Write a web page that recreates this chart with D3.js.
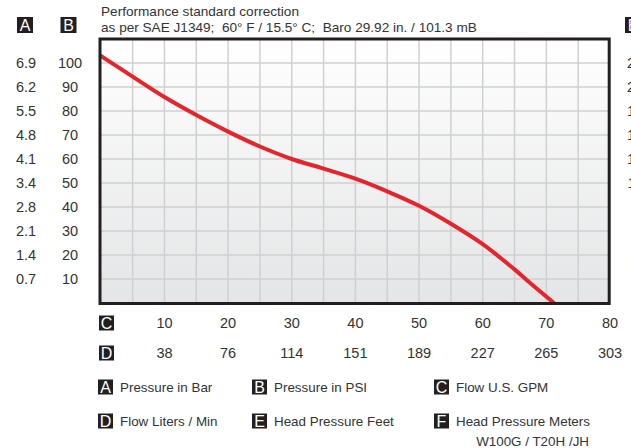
<!DOCTYPE html>
<html><head><meta charset="utf-8">
<script src="https://cdn.jsdelivr.net/npm/d3@7/dist/d3.min.js"></script>
<style>
html,body{margin:0;padding:0;background:#fff;overflow:hidden}
text{font-family:"Liberation Sans",Arial,sans-serif;fill:#333}
</style></head>
<body>
<svg id="c" width="631" height="448"></svg>
<script>
// ---- data ----
const gpm = [0, 5, 10, 15, 20, 25, 30, 35, 40, 45, 50, 55, 60, 65, 67.5, 71.2];
const psi = [103, 94.3, 85.8, 78.3, 71.4, 65.2, 60, 56, 51.8, 46.5, 40.5, 33, 24.5, 14, 8.2, 0];
const psiTicks = [100, 90, 80, 70, 60, 50, 40, 30, 20, 10];
const barLabels = ["6.9", "6.2", "5.5", "4.8", "4.1", "3.4", "2.8", "2.1", "1.4", "0.7"];
const feetLabels = ["231", "208", "185", "162", "139", "116", "92", "69", "46", "23"];
const gpmTicks = [10, 20, 30, 40, 50, 60, 70, 80];
const lpmLabels = ["38", "76", "114", "151", "189", "227", "265", "303"];
const titleLines = ["Performance standard correction",
  "as per SAE J1349;  60\u00B0 F / 15.5\u00B0 C;  Baro 29.92 in. / 101.3 mB"];
const legendKeys = [["A", "Pressure in Bar"], ["B", "Pressure in PSI"], ["C", "Flow U.S. GPM"],
  ["D", "Flow Liters / Min"], ["E", "Head Pressure Feet"], ["F", "Head Pressure Meters"]];
const modelText = "W100G / T20H /JH";

const svg = d3.select("#c");
const x = d3.scaleLinear().domain([0, 80]).range([100.8, 610]);
const y = d3.scaleLinear().domain([0, 110]).range([303, 39]);

const defs = svg.append("defs");
const g = defs.append("linearGradient").attr("id", "bg").attr("x1", 0).attr("x2", 0).attr("y1", 0).attr("y2", 1);
g.append("stop").attr("offset", "0%").attr("stop-color", "#ffffff");
g.append("stop").attr("offset", "100%").attr("stop-color", "#e4e5e6");
defs.append("clipPath").attr("id", "clip").append("rect")
  .attr("x", x(0)).attr("y", y(110)).attr("width", x(80) - x(0)).attr("height", y(0) - y(110));

// background
svg.append("rect").attr("x", x(0)).attr("y", y(110)).attr("width", x(80) - x(0)).attr("height", y(0) - y(110))
  .attr("fill", "url(#bg)");

// grid
const vg = d3.range(5, 80, 5);
svg.append("g").selectAll("line").data(vg).join("line")
  .attr("x1", d => x(d)).attr("x2", d => x(d)).attr("y1", y(110)).attr("y2", y(0))
  .attr("stroke", "#cfd0d1").attr("stroke-width", 1.5);
svg.append("g").selectAll("line").data(d3.range(10, 110, 10)).join("line")
  .attr("x1", x(0)).attr("x2", x(80)).attr("y1", d => y(d)).attr("y2", d => y(d))
  .attr("stroke", "#cfd0d1").attr("stroke-width", 1.5);

// curve
const pts = gpm.map((v, i) => [v, psi[i]]);
svg.append("path").datum(pts).attr("clip-path", "url(#clip)")
  .attr("d", d3.line().x(d => x(d[0])).y(d => y(d[1])).curve(d3.curveCatmullRom.alpha(0.5)))
  .attr("fill", "none").attr("stroke", "#e4262c").attr("stroke-width", 4).attr("stroke-linecap", "round");

// frame
svg.append("rect").attr("x", x(0) - 0.8).attr("y", y(110)).attr("width", x(80) - x(0)).attr("height", y(0) - y(110) + 0.5)
  .attr("fill", "none").attr("stroke", "#231f20").attr("stroke-width", 3);

// key box helper
function keyBox(cx, cy, letter, w, h, fs) {
  svg.append("rect").attr("x", cx - w / 2).attr("y", cy - h / 2).attr("width", w).attr("height", h).attr("fill", "#231f20");
  svg.append("text").attr("x", cx).attr("y", cy).attr("dy", "0.36em").attr("text-anchor", "middle")
    .style("fill", "#fff").style("font-size", fs + "px").text(letter);
}

// title
svg.append("g").selectAll("text").data(titleLines).join("text")
  .attr("x", 101).attr("y", (d, i) => 16 + i * 16).style("font-size", "13.6px")
  .style("white-space", "pre").attr("xml:space", "preserve").text(d => d);

// column headers
keyBox(25, 25, "A", 16, 16, 16);
keyBox(68.5, 25, "B", 16, 16, 16);
keyBox(633, 25, "E", 16, 16, 16);

// left axes
svg.append("g").selectAll("text").data(psiTicks).join("text")
  .attr("x", 26).attr("y", d => y(d)).attr("dy", "0.36em").attr("text-anchor", "middle")
  .style("font-size", "14.5px").text((d, i) => barLabels[i]);
svg.append("g").selectAll("text").data(psiTicks).join("text")
  .attr("x", 70).attr("y", d => y(d)).attr("dy", "0.36em").attr("text-anchor", "middle")
  .style("font-size", "14.5px").text(d => d);
// right axis (clipped by page edge, as in the reference)
svg.append("g").selectAll("text").data(psiTicks).join("text")
  .attr("x", 639).attr("y", d => y(d)).attr("dy", "0.36em").attr("text-anchor", "middle")
  .style("font-size", "14.5px").text((d, i) => feetLabels[i]);

// bottom axes
keyBox(106.5, 323, "C", 15, 15, 16);
keyBox(106.5, 353, "D", 15, 15, 16);
svg.append("g").selectAll("text").data(gpmTicks).join("text")
  .attr("x", d => x(d)).attr("y", 323).attr("dy", "0.36em").attr("text-anchor", "middle")
  .style("font-size", "14.5px").text(d => d);
svg.append("g").selectAll("text").data(gpmTicks).join("text")
  .attr("x", d => x(d)).attr("y", 353).attr("dy", "0.36em").attr("text-anchor", "middle")
  .style("font-size", "14.5px").text((d, i) => lpmLabels[i]);

// legend
const colX = [105.5, 259.5, 441.5];
const rowY = [387, 421];
legendKeys.forEach((k, i) => {
  const cx = colX[i % 3], cy = rowY[Math.floor(i / 3)];
  keyBox(cx, cy, k[0], 15, 15, 16);
  svg.append("text").attr("x", cx + 14.5).attr("y", cy).attr("dy", "0.36em").style("font-size", "13.4px").text(k[1]);
});
svg.append("text").attr("x", 589).attr("y", 441).attr("dy", "0.36em").attr("text-anchor", "end")
  .style("font-size", "13.4px").text(modelText);
</script>
</body></html>
